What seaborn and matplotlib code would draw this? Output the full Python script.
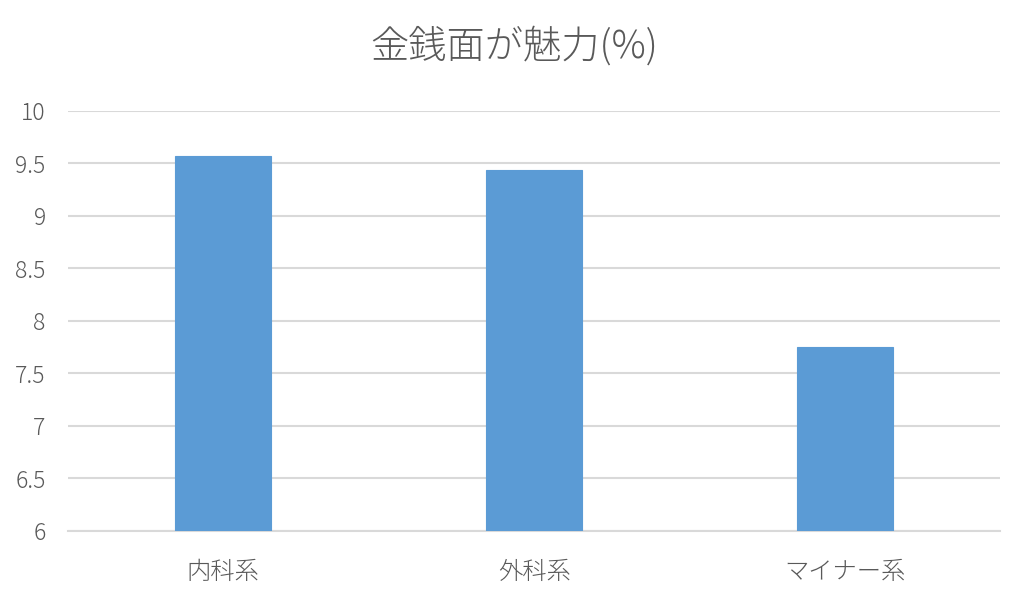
import matplotlib
matplotlib.use("Agg")
import matplotlib.pyplot as plt
import seaborn as sns
import pandas as pd

# data
categories = ['内科系', '外科系', 'マイナー系']
values = [9.57, 9.44, 7.75]
y_ticks = [6, 6.5, 7, 7.5, 8, 8.5, 9, 9.5, 10]
y_tick_labels = ['6', '6.5', '7', '7.5', '8', '8.5', '9', '9.5', '10']
title = '金銭面が魅力(%)'

df = pd.DataFrame({'category': categories, 'value': values})

sns.set_style("white")
plt.rcParams['font.family'] = ['Noto Sans CJK JP', 'DejaVu Sans']

text_color = '#595959'
grid_color = '#D9D9D9'

fig = plt.figure(figsize=(10.29, 5.97), dpi=100)
ax = fig.add_axes([0.066, 0.1106, 0.906, 0.7035])

sns.barplot(data=df, x='category', y='value', color='#5B9BD5',
            width=0.31, saturation=1, ax=ax, zorder=3)
for p in ax.patches:
    p.set_edgecolor('#5B9BD5')
    p.set_linewidth(0.8)

ax.set_ylim(6, 10)
ax.set_xlim(-0.5, 2.5)
ax.set_yticks(y_ticks)
ax.set_yticklabels(y_tick_labels)
ax.yaxis.grid(True, color=grid_color, linewidth=1.5, zorder=0)
ax.set_axisbelow(True)

for side in ['top', 'right', 'left']:
    ax.spines[side].set_visible(False)
ax.spines['bottom'].set_color(grid_color)
ax.spines['bottom'].set_linewidth(1.5)

ax.tick_params(axis='y', length=0, colors=text_color, labelsize=16.5, pad=16)
ax.tick_params(axis='x', length=0, colors=text_color, labelsize=17.5, pad=21)
for lbl in ax.get_yticklabels() + ax.get_xticklabels():
    lbl.set_fontweight('light')
ax.set_xlabel('')
ax.set_ylabel('')

fig.text(0.5, 0.922, title, ha='center', va='center', fontsize=27.5,
         color=text_color, fontweight='light')

fig.savefig('out.png', dpi=100)
